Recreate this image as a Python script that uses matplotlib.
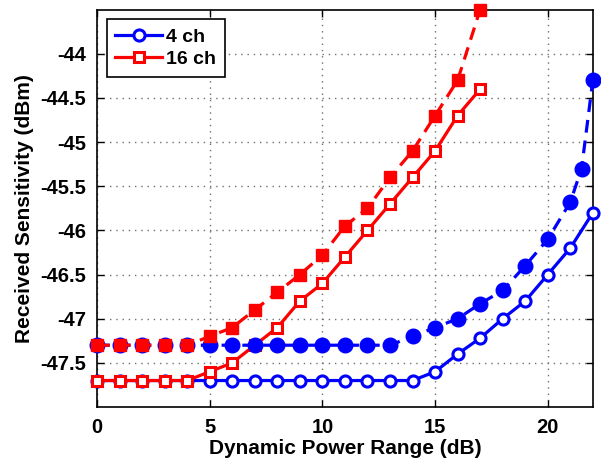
import numpy as np
import matplotlib
matplotlib.use('Agg')
import matplotlib.pyplot as plt

plt.rcParams['font.family'] = ['Liberation Sans', 'DejaVu Sans']
plt.rcParams['font.weight'] = 'bold'

# 4 ch
x4 = list(range(0, 23))
y4_solid = [-47.7] * 15 + [-47.6, -47.4, -47.22, -47.0, -46.8, -46.5, -46.2, -45.8]
x4_dash = list(range(0, 22)) + [21.5, 22]
y4_dash = [-47.3] * 14 + [-47.2, -47.1, -47.0, -46.83, -46.68, -46.4, -46.1, -45.68, -45.3, -44.3]

# 16 ch
x16 = list(range(0, 18))
y16_solid = [-47.7] * 5 + [-47.6, -47.5, -47.3, -47.1, -46.8, -46.6, -46.3,
                           -46.0, -45.7, -45.4, -45.1, -44.7, -44.4]
y16_dash = [-47.3] * 5 + [-47.2, -47.1, -46.9, -46.7, -46.5, -46.28, -45.95,
                          -45.75, -45.4, -45.1, -44.7, -44.3, -43.5]

xticks = [0, 5, 10, 15, 20]
yticks = [-47.5, -47, -46.5, -46, -45.5, -45, -44.5, -44]
ytick_labels = ['-47.5', '-47', '-46.5', '-46', '-45.5', '-45', '-44.5', '-44']

fig = plt.figure(figsize=(6.01, 4.62), dpi=100)
ax = fig.add_axes([0.1614, 0.119, 0.825, 0.860])

lw = 2.3
dash = (0, (4, 2.5))
# order: blue solid, red solid, blue dashed, red dashed
h1, = ax.plot(x4, y4_solid, color='blue', lw=lw, marker='o', ms=8, mfc='white',
              mec='blue', mew=2.2, clip_on=False, zorder=3, label='4 ch')
h2, = ax.plot(x16, y16_solid, color='red', lw=lw, marker='s', ms=7, mfc='white',
              mec='red', mew=2.2, clip_on=False, zorder=4, label='16 ch')
ax.plot(x4_dash, y4_dash, color='blue', ls=dash, lw=lw, marker='o',
        ms=10.5, mfc='blue', mec='blue', clip_on=False, zorder=5)
ax.plot(x16, y16_dash, color='red', ls=dash, lw=lw, marker='s',
        ms=9, mfc='red', mec='red', clip_on=False, zorder=6)

ax.set_xlim(0, 22)
ax.set_ylim(-48, -43.5)
ax.set_xticks(xticks)
ax.set_yticks(yticks)
ax.set_yticklabels(ytick_labels)
ax.tick_params(direction='in', top=True, right=True, labelsize=14.5, length=5, width=1)
ax.tick_params(axis='x', pad=8)
ax.tick_params(axis='y', pad=8)
for lab in ax.get_xticklabels() + ax.get_yticklabels():
    lab.set_fontweight('bold')
ax.grid(True, ls=(0, (1, 3.5)), color='#707070', lw=1)
ax.set_axisbelow(True)
for s in ax.spines.values():
    s.set_linewidth(1.2)

ax.set_xlabel('Dynamic Power Range (dB)', fontsize=15, fontweight='bold', labelpad=1)
ax.set_ylabel('Received Sensitivity (dBm)', fontsize=15, fontweight='bold', labelpad=4)

leg = ax.legend(handles=[h1, h2], loc='upper left', handlelength=2.4,
                fancybox=False, framealpha=1, edgecolor='black',
                borderaxespad=0.5, handletextpad=0.2, labelspacing=0.25,
                borderpad=0.45, prop={'weight': 'bold', 'size': 14})
leg.get_frame().set_linewidth(1.2)

fig.savefig('out.png', dpi=100)
